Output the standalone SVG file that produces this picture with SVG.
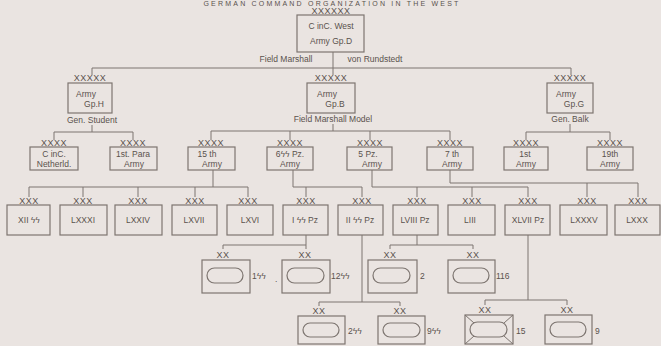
<svg xmlns="http://www.w3.org/2000/svg" width="661" height="346" viewBox="0 0 661 346">
<style>
.bg{fill:#eae4e1}
.b{fill:none;stroke:#7d7570;stroke-width:1.2}
.c{fill:none;stroke:#7d7570;stroke-width:1}
.o{fill:none;stroke:#7d7570;stroke-width:1.2}
text{font-family:"Liberation Sans","DejaVu Sans",sans-serif;fill:#5a524d;font-size:8.5px;text-anchor:middle}
.x{font-size:9px;letter-spacing:0.5px}
.n{text-anchor:start;font-size:8.5px}
.t{font-size:7px;letter-spacing:2.2px}
</style>
<rect class="bg" x="0" y="0" width="661" height="346"/>
<text class="t" x="332" y="6">GERMAN COMMAND ORGANIZATION IN THE WEST</text>
<g id="connectors">
<path class="c" d="M333 52V68M92 68H571M92 68V75M333 68V75M571 68V75"/>
<path class="c" d="M92 125V132M54 132H133M54 132V140M133 132V140"/>
<path class="c" d="M333 124V131M211 131H450M211 131V140M290 131V140M370 131V140M450 131V140"/>
<path class="c" d="M570 124V132M526 132H610M526 132V140M610 132V140"/>
<path class="c" d="M213 170V187M29 187H248M29 187V197M83 187V197M138 187V197M195 187V197M248 187V197"/>
<path class="c" d="M293 170V187H362M306 187V197M362 187V197"/>
<path class="c" d="M372 170V187H528M417 187V197M472 187V197M528 187V197"/>
<path class="c" d="M450 170V183H638M587 183V197M638 183V197"/>
<path class="c" d="M306 235V245H223M223 245V249M306 245V249"/>
<path class="c" d="M417 235V245M390 245H473M390 245V249M473 245V249"/>
<path class="c" d="M362 235V302M319 302H400M319 302V306M400 302V306"/>
<path class="c" d="M528 235V300M485 300H567M485 300V305M567 300V305"/>
</g>
<g id="cinc-west">
<text class="x" x="331" y="14">XXXXXX</text>
<rect class="b" x="297" y="15" width="67" height="37"/>
<text x="331" y="29">C inC. West</text>
<text x="331" y="44">Army Gp.D</text>
<text x="286" y="62">Field Marshall</text>
<text x="375" y="62">von Rundstedt</text>
</g>
<g id="armygp-h">
<text class="x" x="90" y="81">XXXXX</text>
<rect class="b" x="68" y="83" width="44" height="30"/>
<text x="86" y="97">Army</text>
<text x="94" y="107">Gp.H</text>
<text x="92" y="123">Gen. Student</text>
</g>
<g id="armygp-b">
<text class="x" x="331" y="81">XXXXX</text>
<rect class="b" x="307" y="83" width="48" height="30"/>
<text x="327" y="97">Army</text>
<text x="335" y="107">Gp.B</text>
<text x="333" y="122">Field Marshall Model</text>
</g>
<g id="armygp-g">
<text class="x" x="570" y="81">XXXXX</text>
<rect class="b" x="547" y="83" width="46" height="30"/>
<text x="566" y="97">Army</text>
<text x="574" y="107">Gp.G</text>
<text x="570" y="122">Gen. Balk</text>
</g>
<g id="cinc-netherld">
<text class="x" x="54" y="146">XXXX</text>
<rect class="b" x="30" y="147" width="48" height="23"/>
<text x="54" y="157">C inC.</text>
<text x="54" y="167">Netherld.</text>
</g>
<g id="para-army">
<text class="x" x="133" y="146">XXXX</text>
<rect class="b" x="110" y="147" width="47" height="23"/>
<text x="133" y="157">1st. Para</text>
<text x="134" y="167">Army</text>
</g>
<g id="army-15">
<text class="x" x="211" y="146">XXXX</text>
<rect class="b" x="188" y="147" width="47" height="23"/>
<text x="207" y="157">15 th</text>
<text x="212" y="167">Army</text>
</g>
<g id="army-6ss">
<text class="x" x="290" y="146">XXXX</text>
<rect class="b" x="267" y="147" width="46" height="23"/>
<text x="290" y="157">6ϟϟ Pz.</text>
<text x="290" y="167">Army</text>
</g>
<g id="army-5pz">
<text class="x" x="370" y="146">XXXX</text>
<rect class="b" x="347" y="147" width="45" height="23"/>
<text x="368" y="157">5 Pz.</text>
<text x="372" y="167">Army</text>
</g>
<g id="army-7">
<text class="x" x="450" y="146">XXXX</text>
<rect class="b" x="427" y="147" width="46" height="23"/>
<text x="452" y="157">7 th</text>
<text x="452" y="167">Army</text>
</g>
<g id="army-1">
<text class="x" x="526" y="146">XXXX</text>
<rect class="b" x="504" y="147" width="44" height="23"/>
<text x="525" y="157">1st</text>
<text x="526" y="167">Army</text>
</g>
<g id="army-19">
<text class="x" x="610" y="146">XXXX</text>
<rect class="b" x="587" y="147" width="46" height="23"/>
<text x="610" y="157">19th</text>
<text x="610" y="167">Army</text>
</g>
<g id="corps-xii-ss"><text class="x" x="29" y="204">XXX</text><rect class="b" x="7" y="205" width="43" height="30"/><text x="29" y="223">XII ϟϟ</text></g>
<g id="corps-lxxxi"><text class="x" x="83" y="204">XXX</text><rect class="b" x="60" y="205" width="47" height="30"/><text x="83" y="223">LXXXI</text></g>
<g id="corps-lxxiv"><text class="x" x="138" y="204">XXX</text><rect class="b" x="115" y="205" width="47" height="30"/><text x="138" y="223">LXXIV</text></g>
<g id="corps-lxvii"><text class="x" x="195" y="204">XXX</text><rect class="b" x="172" y="205" width="45" height="30"/><text x="194" y="223">LXVII</text></g>
<g id="corps-lxvi"><text class="x" x="248" y="204">XXX</text><rect class="b" x="227" y="205" width="46" height="30"/><text x="250" y="223">LXVI</text></g>
<g id="corps-i-ss-pz"><text class="x" x="306" y="204">XXX</text><rect class="b" x="283" y="205" width="45" height="30"/><text x="305" y="223">I ϟϟ Pz</text></g>
<g id="corps-ii-ss-pz"><text class="x" x="362" y="204">XXX</text><rect class="b" x="338" y="205" width="45" height="30"/><text x="360" y="223">II ϟϟ Pz</text></g>
<g id="corps-lviii-pz"><text class="x" x="417" y="204">XXX</text><rect class="b" x="393" y="205" width="45" height="30"/><text x="415" y="223">LVIII Pz</text></g>
<g id="corps-liii"><text class="x" x="472" y="204">XXX</text><rect class="b" x="448" y="205" width="47" height="30"/><text x="470" y="223">LIII</text></g>
<g id="corps-xlvii-pz"><text class="x" x="528" y="204">XXX</text><rect class="b" x="505" y="205" width="45" height="30"/><text x="528" y="223">XLVII Pz</text></g>
<g id="corps-lxxxv"><text class="x" x="587" y="204">XXX</text><rect class="b" x="560" y="205" width="47" height="30"/><text x="584" y="223">LXXXV</text></g>
<g id="corps-lxxx"><text class="x" x="638" y="204">XXX</text><rect class="b" x="615" y="205" width="45" height="30"/><text x="637" y="223">LXXX</text></g>
<g id="div-1ss"><text class="x" x="223" y="258">XX</text><rect class="b" x="202" y="260" width="48" height="33"/><rect class="o" x="207" y="268" width="36" height="15" rx="7.5"/><text class="n" x="252" y="279">1ϟϟ</text><text class="n" x="275" y="282">.</text></g>
<g id="div-12ss"><text class="x" x="305" y="258">XX</text><rect class="b" x="282" y="260" width="48" height="33"/><rect class="o" x="287" y="268" width="37" height="15" rx="7.5"/><text class="n" x="331" y="279">12ϟϟ</text></g>
<g id="div-2"><text class="x" x="390" y="258">XX</text><rect class="b" x="368" y="260" width="49" height="33"/><rect class="o" x="373" y="268" width="37" height="15" rx="7.5"/><text class="n" x="420" y="279">2</text></g>
<g id="div-116"><text class="x" x="473" y="258">XX</text><rect class="b" x="448" y="260" width="47" height="33"/><rect class="o" x="453" y="268" width="36" height="15" rx="7.5"/><text class="n" x="496" y="279">116</text></g>
<g id="div-2ss"><text class="x" x="319" y="314">XX</text><rect class="b" x="298" y="316" width="47" height="28"/><rect class="o" x="303" y="323" width="36" height="14" rx="7"/><text class="n" x="348" y="334">2ϟϟ</text></g>
<g id="div-9ss"><text class="x" x="400" y="314">XX</text><rect class="b" x="378" y="316" width="47" height="28"/><rect class="o" x="383" y="323" width="37" height="14" rx="7"/><text class="n" x="427" y="334">9ϟϟ</text></g>
<g id="div-15"><text class="x" x="485" y="313">XX</text><rect class="b" x="465" y="315" width="48" height="29"/><rect class="o" x="470" y="322" width="37" height="15" rx="7.5"/><path class="c" d="M465 315L474 323M513 315L504 323M465 344L474 336M513 344L504 336"/><text class="n" x="516" y="334">15</text></g>
<g id="div-9"><text class="x" x="567" y="313">XX</text><rect class="b" x="545" y="315" width="47" height="29"/><rect class="o" x="550" y="322" width="36" height="15" rx="7.5"/><text class="n" x="595" y="334">9</text></g>
</svg>
